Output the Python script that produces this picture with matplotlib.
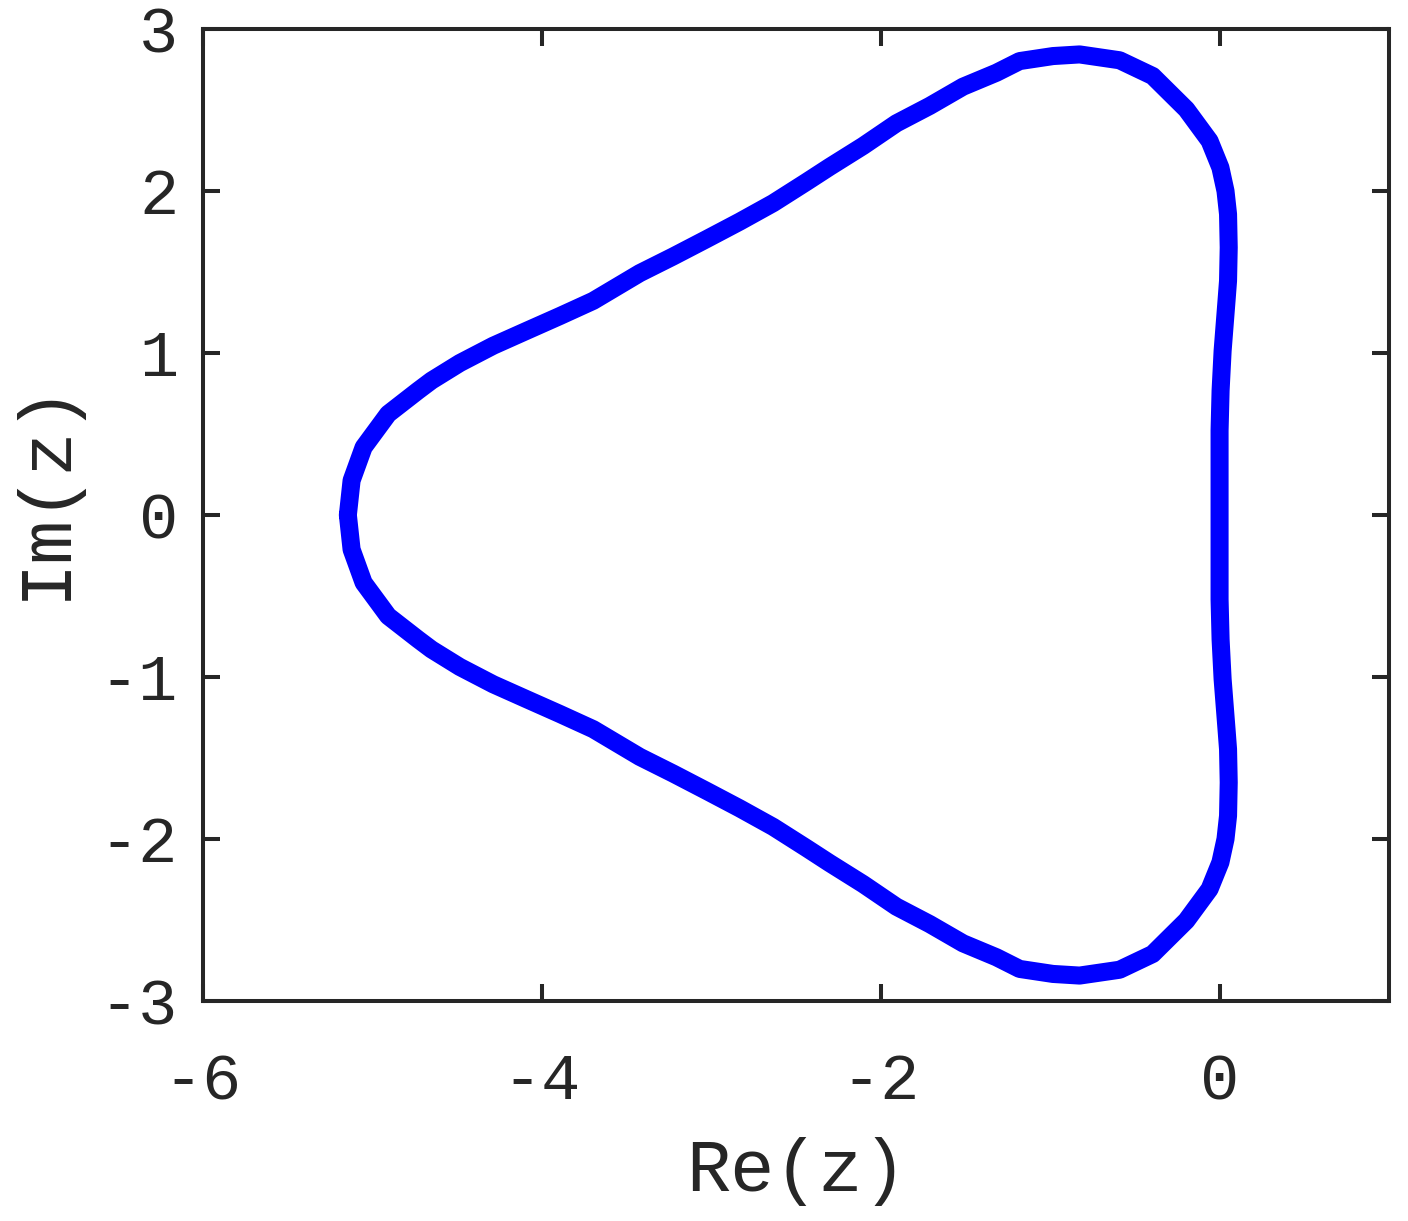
import matplotlib
matplotlib.use("Agg")
import matplotlib.pyplot as plt

# Upper half of the closed boundary curve (Re, Im)
re_upper = [-5.145, -5.123, -5.052, -4.907, -4.730, -4.651, -4.484, -4.287, -4.090,
            -3.894, -3.697, -3.422, -3.225, -3.028, -2.832, -2.635, -2.438, -2.301,
            -2.104, -1.907, -1.711, -1.514, -1.317, -1.180, -0.983, -0.826, -0.590,
            -0.395, -0.196, -0.059, 0.005, 0.035, 0.050, 0.054, 0.050, 0.041,
            0.018, 0.006, 0.0, 0.0, 0.0]
im_upper = [0.0, 0.213, 0.418, 0.624, 0.768, 0.830, 0.938, 1.045, 1.137,
            1.228, 1.322, 1.493, 1.596, 1.703, 1.811, 1.925, 2.056, 2.149,
            2.278, 2.418, 2.525, 2.644, 2.730, 2.802, 2.833, 2.843, 2.807,
            2.710, 2.504, 2.309, 2.144, 2.000, 1.857, 1.651, 1.446, 1.322,
            1.014, 0.768, 0.521, 0.194, 0.0]

xticks = [-6, -4, -2, 0]
yticks = [-3, -2, -1, 0, 1, 2, 3]
xlabel = "Re(z)"
ylabel = "Im(z)"

# closed curve: upper half followed by its mirror image (curve is symmetric about Im=0)
re_all = re_upper + list(reversed(re_upper))[1:]
im_all = im_upper + [-v for v in reversed(im_upper)][1:]

plt.rcParams['font.family'] = ['Liberation Mono', 'DejaVu Sans']
fig = plt.figure(figsize=(14.08, 12.21), dpi=100)
ax = fig.add_axes([203/1408, 1-1001/1221, (1389-203)/1408, (1001-29)/1221])
ax.plot(re_all, im_all, color='#0000ff', lw=13, solid_capstyle='round', solid_joinstyle='round')
ax.set_xlim(-6, 1)
ax.set_ylim(-3, 3)
ax.set_xticks(xticks)
ax.set_yticks(yticks)
ax.set_xticklabels([str(t) for t in xticks])
ax.set_yticklabels([str(t) for t in yticks])
col = '#262626'
for s in ax.spines.values():
    s.set_linewidth(2.9)
    s.set_color(col)
ax.tick_params(direction='in', length=12, width=2.9, color=col, labelcolor=col,
               labelsize=47, top=True, right=True)
ax.tick_params(axis='x', pad=37)
ax.tick_params(axis='y', pad=18)
ax.set_xlabel(xlabel, fontsize=53, color=col, labelpad=18)
ax.set_ylabel(ylabel, fontsize=53, color=col)
ax.yaxis.set_label_coords(-0.104, 0.526)
fig.savefig('out.png', dpi=100)
